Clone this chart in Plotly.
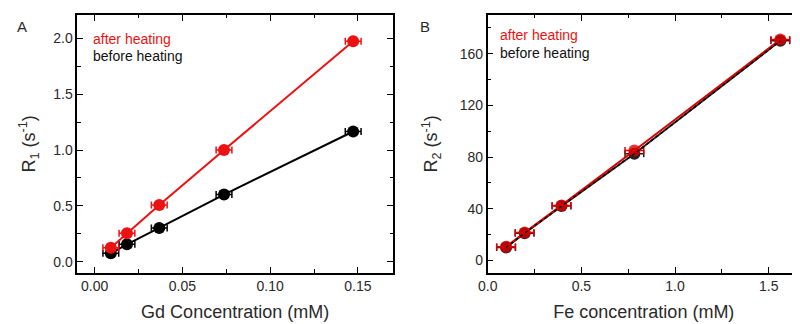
import plotly.graph_objects as go

# Panel A data (Gd)
gd_x = [0.0092, 0.0184, 0.0368, 0.0737, 0.1473]
gd_after = [0.125, 0.255, 0.508, 1.0, 1.975]
gd_before = [0.075, 0.155, 0.302, 0.601, 1.166]
gd_xerr = [0.0045, 0.0045, 0.0045, 0.0045, 0.0045]

# Panel B data (Fe)
fe_x = [0.098, 0.197, 0.394, 0.783, 1.562]
fe_after = [10.5, 21.5, 42.5, 85.0, 171.0]
fe_before = [10.0, 21.0, 42.0, 82.5, 170.0]
fe_xerr = [0.05, 0.05, 0.05, 0.05, 0.05]

RED = "#ee1111"
BLACK = "#000000"
FONT = "Liberation Sans, Arial, sans-serif"
TXT = "#2a2a2a"

# the page body adds an 8px offset; the figure is drawn in a 792x316 box
OFF = 8
W, H = 800 - OFF, 324 - OFF

def px(p):
    return (p - OFF) / W

def py(p):
    return 1 - (p - OFF) / H

fig = go.Figure()

def add(x, y, err, color, xa, ya, dash="solid", opacity=1.0, msize=12):
    fig.add_trace(go.Scatter(
        x=x, y=y, mode="lines+markers", xaxis=xa, yaxis=ya,
        line=dict(color=color, width=2, dash=dash),
        marker=dict(color=color, size=msize, opacity=opacity),
        error_x=dict(type="data", array=err, visible=True, color=color,
                     thickness=1.5, width=3.5),
        showlegend=False, hoverinfo="skip"))

add(gd_x, gd_before, gd_xerr, BLACK, "x", "y")
add(gd_x, gd_after, gd_xerr, RED, "x", "y")

# Panel B: black under, red over, black dotted line on top
add(fe_x, fe_before, fe_xerr, "#222222", "x2", "y2")
add(fe_x, fe_after, fe_xerr, "#dd0000", "x2", "y2", opacity=0.8)
fig.add_trace(go.Scatter(x=fe_x, y=fe_before, mode="lines", xaxis="x2", yaxis="y2",
                         line=dict(color="#000000", width=1.5, dash="dot"),
                         showlegend=False, hoverinfo="skip"))

common_axis = dict(
    showline=True, linecolor="black", linewidth=1.5, mirror="allticks",
    ticks="inside", ticklen=6, tickwidth=1.3, tickcolor="black",
    showgrid=False, zeroline=False, automargin=False,
    tickfont=dict(family=FONT, size=14, color=TXT),
)
minor_common = dict(ticks="inside", ticklen=3.5, tickwidth=1.2, tickcolor="black")
title_font = dict(family=FONT, size=18, color=TXT)

yd = [py(272.7), py(15)]

fig.update_layout(
    template="none",
    width=W, height=H,
    margin=dict(l=0, r=0, t=0, b=0, autoexpand=False),
    paper_bgcolor="white", plot_bgcolor="white",
    font=dict(family=FONT, color=TXT),
    xaxis=dict(common_axis, domain=[px(77.3), px(393)], range=[-0.0099, 0.170],
               tickvals=[0, 0.05, 0.10, 0.15], ticktext=["0.00", "0.05", "0.10", "0.15"],
               minor=dict(minor_common, dtick=0.025, tick0=0),
               title=dict(text="Gd Concentration (mM)", font=title_font, standoff=12)),
    yaxis=dict(common_axis, domain=yd, range=[-0.099, 2.21],
               tickvals=[0, 0.5, 1.0, 1.5, 2.0], ticktext=["0.0", "0.5", "1.0", "1.5", "2.0"],
               minor=dict(minor_common, dtick=0.25, tick0=0),
               title=dict(text="R<sub>1</sub> (s<sup>-1</sup>)", font=title_font, standoff=13)),
    xaxis2=dict(common_axis, domain=[px(487.7), 1.0], range=[0, 1.667], anchor="y2",
                tickvals=[0, 0.5, 1.0, 1.5], ticktext=["0.0", "0.5", "1.0", "1.5"],
                minor=dict(minor_common, dtick=0.25, tick0=0),
                title=dict(text="Fe concentration (mM)", font=title_font, standoff=12)),
    yaxis2=dict(common_axis, domain=yd, range=[-9.6, 190], anchor="x2",
                tickvals=[0, 40, 80, 120, 160],
                minor=dict(minor_common, dtick=20, tick0=0),
                title=dict(text="R<sub>2</sub> (s<sup>-1</sup>)", font=title_font, standoff=17)),
)

def ann(x, y, text, color, size=14):
    fig.add_annotation(x=px(x), y=py(y), xref="paper", yref="paper",
                       text=text, showarrow=False, xanchor="left", yanchor="middle",
                       font=dict(family=FONT, size=size, color=color))

ann(15, 27, "A", TXT, 15)
ann(418, 27, "B", TXT, 15)
ann(91, 39, "after heating", RED)
ann(91, 56, "before heating", "#111111")
ann(498, 35, "after heating", RED)
ann(498, 53, "before heating", "#111111")

fig.write_html("out.html")
